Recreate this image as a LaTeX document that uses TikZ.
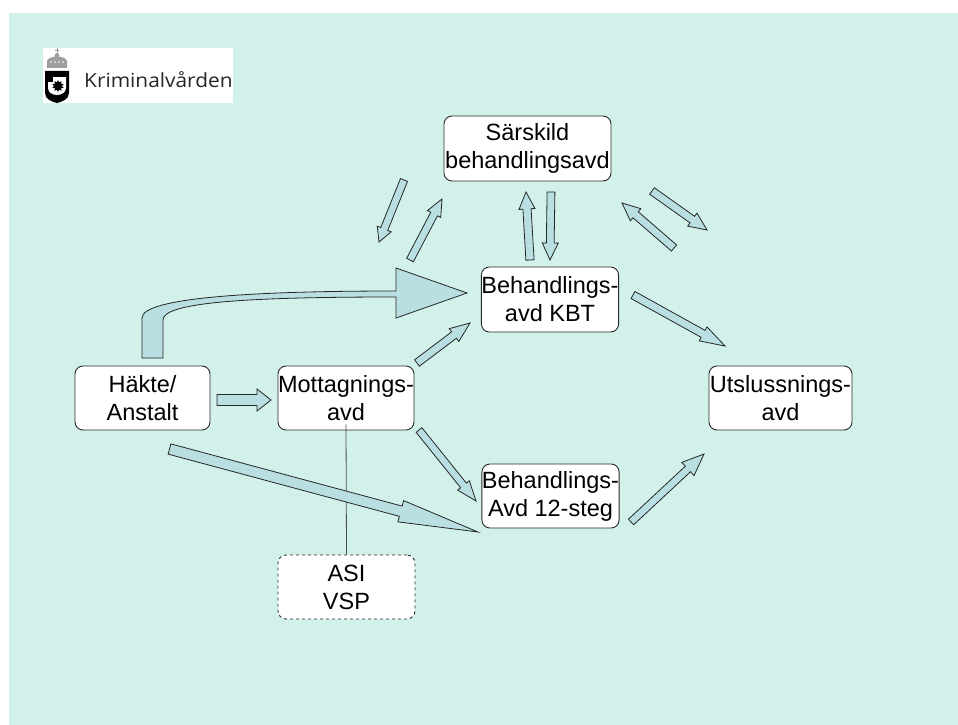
\documentclass[tikz,border=0pt]{standalone}
\usepackage{fontspec}
\setmainfont{Liberation Sans}
\newfontfamily\logofont{Open Sans}
\usetikzlibrary{calc,shapes.geometric}
\definecolor{mintbg}{RGB}{211,241,235}
\definecolor{arrfill}{RGB}{185,223,226}
\definecolor{boxline}{RGB}{40,40,40}
\tikzset{
  unitbox/.style={draw=boxline, line width=0.9pt, fill=white, rounded corners=8pt,
    minimum width=#1, minimum height=64pt, inner sep=0pt, align=center,
    font=\fontsize{23.5}{28}\selectfont},
  dashbox/.style={unitbox=#1, dashed},
  blockarrow/.style={draw=black!85, fill=arrfill, line width=0.8pt, line join=miter},
  linkline/.style={draw=black!70, line width=0.8pt},
}
% #1 start, #2 tip, #3 shaft half width, #4 head half width, #5 head length
\newcommand\blockarr[5]{%
  \path ($(#2)!#5!(#1)$) coordinate (hb);
  \draw[blockarrow] ($(#1)!#3!90:(#2)$) -- ($(hb)!#3!90:(#2)$) -- ($(hb)!#4!90:(#2)$)
    -- (#2) -- ($(hb)!#4!-90:(#2)$) -- ($(hb)!#3!-90:(#2)$) -- ($(#1)!#3!-90:(#2)$) -- cycle;}
\begin{document}
\begin{tikzpicture}[x=1pt,y=-1pt]
\useasboundingbox (0,0) rectangle (958,725);
\fill[white] (0,0) rectangle (958,725);
\fill[mintbg] (9,13) rectangle (958,725);

% logo
\fill[white] (43,48) rectangle (233,103);
\draw[black!40, line width=1pt] (57,48.5) -- (57,54) (55,50.5) -- (59,50.5);
\fill[black!38] (47,68) -- (47,61) .. controls (49,55) and (65,55) .. (67,61) -- (67,68) -- cycle;
\fill[black!38] (57,55.5) circle (2.3pt);
\foreach \xx in {50,54,58,62} {\fill[white] (\xx+1,62) circle (0.9pt);}
\fill[black] (45,71) -- (69,71) -- (69,93) .. controls (69,99) and (62,102) .. (57,103)
  .. controls (52,102) and (45,99) .. (45,93) -- cycle;
\fill[white] (48,77) -- (66,77) -- (66,88) .. controls (66,92) and (62,95) .. (57,95)
  .. controls (52,95) and (48,92) .. (48,88) -- cycle;
\fill[black] (48,77) rectangle (53,82);
\node[star, star points=10, star point ratio=1.6, fill=black, minimum size=12pt, inner sep=0pt] (sun) at (58,86) {};
\node[anchor=base west, font=\logofont\fontsize{19.5}{22}\selectfont, text=black!85, inner sep=0pt] (logo) at (84,87) {\scalebox{1.07}[1]{Kriminalvården}};

% boxes
\node[unitbox=167pt, minimum height=65pt] (sar) at (527.5,148.5) {Särskild\\behandlingsavd};
\node[unitbox=136pt, minimum height=65pt] (kbt) at (550,299.5) {Behandlings-\\avd KBT};
\node[unitbox=135pt] (hak) at (142.5,398) {Häkte/\\Anstalt};
\node[unitbox=136pt] (mot) at (346,398) {Mottagnings-\\avd};
\node[unitbox=137pt] (tolv) at (550.5,496) {Behandlings-\\Avd 12-steg};
\node[dashbox=137pt] (asi) at (346.5,587) {ASI\\VSP};
\node[unitbox=143pt] (uts) at (780.5,398) {Utslussnings-\\avd};

\draw[linkline] ([yshift=6pt]mot.south) -- (asi.north);

% arrow end points
\coordinate (a1s) at (404,180);   \coordinate (a1e) at (379,242);
\coordinate (a2s) at (410,260);   \coordinate (a2e) at (442,199);
\coordinate (a3s) at (530,260);   \coordinate (a3e) at (526,192);
\coordinate (a4s) at (551,192);   \coordinate (a4e) at (550,260);
\coordinate (a5s) at (674,248);   \coordinate (a5e) at (622,203);
\coordinate (a6s) at (652,191);   \coordinate (a6e) at (707,230);
\coordinate (a7s) at (633,295);   \coordinate (a7e) at (725,346);
\coordinate (a8s) at (417,363);   \coordinate (a8e) at (470,323);
\coordinate (a9s) at (631,522);   \coordinate (a9e) at (704,454);
\coordinate (a10s) at (419,430);  \coordinate (a10e) at (476,501);
\coordinate (a11s) at (169.5,449);\coordinate (a11e) at (478,532);
\coordinate (a12s) at (217,400);  \coordinate (a12e) at (271,400);

\blockarr{a1s}{a1e}{3.8pt}{7.5pt}{14pt}
\blockarr{a2s}{a2e}{3.8pt}{7.5pt}{17pt}
\blockarr{a3s}{a3e}{4.1pt}{8pt}{17pt}
\blockarr{a4s}{a4e}{3.9pt}{8pt}{17pt}
\blockarr{a5s}{a5e}{4pt}{8pt}{18pt}
\blockarr{a6s}{a6e}{4pt}{8pt}{18pt}
\blockarr{a7s}{a7e}{4pt}{8pt}{25pt}
\blockarr{a8s}{a8e}{4pt}{8pt}{20pt}
\blockarr{a9s}{a9e}{3.8pt}{9pt}{22pt}
\blockarr{a10s}{a10e}{3.7pt}{7.5pt}{20pt}
\blockarr{a11s}{a11e}{5.3pt}{11pt}{80pt}
\blockarr{a12s}{a12e}{5.5pt}{11pt}{14pt}

% curved arrow from Häkte to KBT
\coordinate (cvs) at (152.5,358);
\coordinate (cve) at (467,293);
\draw[blockarrow] ([xshift=-10.5pt]cvs) -- (142,318) .. controls (142,298) and (250,291) .. (396,291)
  -- (396,268) -- (cve) -- (396,318) -- (396,297) .. controls (250,297) and (163,302) .. (163,320)
  -- ([xshift=10.5pt]cvs) -- cycle;
\end{tikzpicture}
\end{document}
